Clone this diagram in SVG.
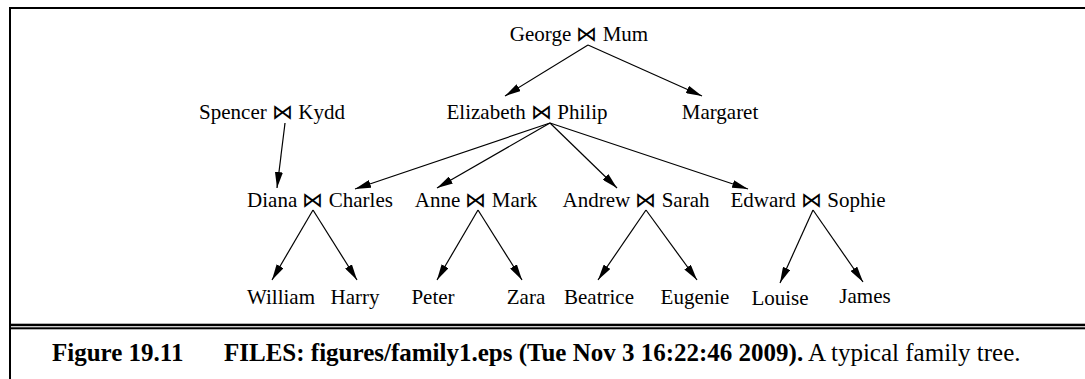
<svg xmlns="http://www.w3.org/2000/svg" width="1085" height="379" viewBox="0 0 1085 379">
<style>
.t{font-family:"Liberation Serif","Times New Roman",serif;font-size:21px;fill:#000;text-anchor:middle}
.c{font-family:"Liberation Serif","Times New Roman",serif;font-size:25px;fill:#000}
.b{font-weight:bold}
.e{stroke:#000;stroke-width:1.2;fill:none;marker-end:url(#ah)}
</style>
<defs>
<marker id="ah" markerUnits="userSpaceOnUse" markerWidth="17" markerHeight="8" refX="16" refY="4" orient="auto">
<path d="M0,0 L16,4 L0,8 z" fill="#000"/>
</marker>
</defs>
<rect width="1085" height="379" fill="#fff"/>
<g id="frame" fill="#000">
<rect x="9" y="7" width="1076" height="2"/>
<rect x="9" y="7" width="2" height="372"/>
<rect x="9" y="323.7" width="1076" height="2.5"/>
<rect x="9" y="327.3" width="1076" height="2"/>
</g>
<g id="connectors">
<line class="e" x1="588" y1="45" x2="505" y2="96"/>
<line class="e" x1="588" y1="45" x2="702" y2="96"/>
<line class="e" x1="285" y1="123" x2="277" y2="188"/>
<line class="e" x1="550" y1="123" x2="355" y2="189"/>
<line class="e" x1="550" y1="123" x2="437" y2="188"/>
<line class="e" x1="550" y1="123" x2="617" y2="188"/>
<line class="e" x1="550" y1="123" x2="748" y2="189"/>
<line class="e" x1="313" y1="210" x2="272" y2="280"/>
<line class="e" x1="313" y1="210" x2="357" y2="280"/>
<line class="e" x1="478" y1="210" x2="437" y2="280"/>
<line class="e" x1="478" y1="210" x2="522" y2="280"/>
<line class="e" x1="646" y1="210" x2="598" y2="280"/>
<line class="e" x1="646" y1="210" x2="697" y2="280"/>
<line class="e" x1="813" y1="210" x2="780" y2="283"/>
<line class="e" x1="813" y1="210" x2="863" y2="282"/>
</g>
<g id="n-george"><text class="t" x="579" y="41">George ⋈ Mum</text></g>
<g id="n-spencer"><text class="t" x="272" y="119">Spencer ⋈ Kydd</text></g>
<g id="n-elizabeth"><text class="t" x="527" y="119">Elizabeth ⋈ Philip</text></g>
<g id="n-margaret"><text class="t" x="720" y="119">Margaret</text></g>
<g id="n-diana"><text class="t" x="320" y="207">Diana ⋈ Charles</text></g>
<g id="n-anne"><text class="t" x="476" y="207">Anne ⋈ Mark</text></g>
<g id="n-andrew"><text class="t" x="636" y="207">Andrew ⋈ Sarah</text></g>
<g id="n-edward"><text class="t" x="808" y="207">Edward ⋈ Sophie</text></g>
<g id="n-william"><text class="t" x="281" y="304">William</text></g>
<g id="n-harry"><text class="t" x="355" y="304">Harry</text></g>
<g id="n-peter"><text class="t" x="433" y="304">Peter</text></g>
<g id="n-zara"><text class="t" x="526" y="304">Zara</text></g>
<g id="n-beatrice"><text class="t" x="599" y="304">Beatrice</text></g>
<g id="n-eugenie"><text class="t" x="695" y="304">Eugenie</text></g>
<g id="n-louise"><text class="t" x="780" y="305">Louise</text></g>
<g id="n-james"><text class="t" x="865" y="303">James</text></g>
<g id="caption">
<text class="c b" x="52" y="361">Figure 19.11</text>
<text class="c" x="224" y="361"><tspan class="b">FILES: figures/family1.eps (Tue Nov 3 16:22:46 2009).</tspan> A typical family tree.</text>
</g>
</svg>
